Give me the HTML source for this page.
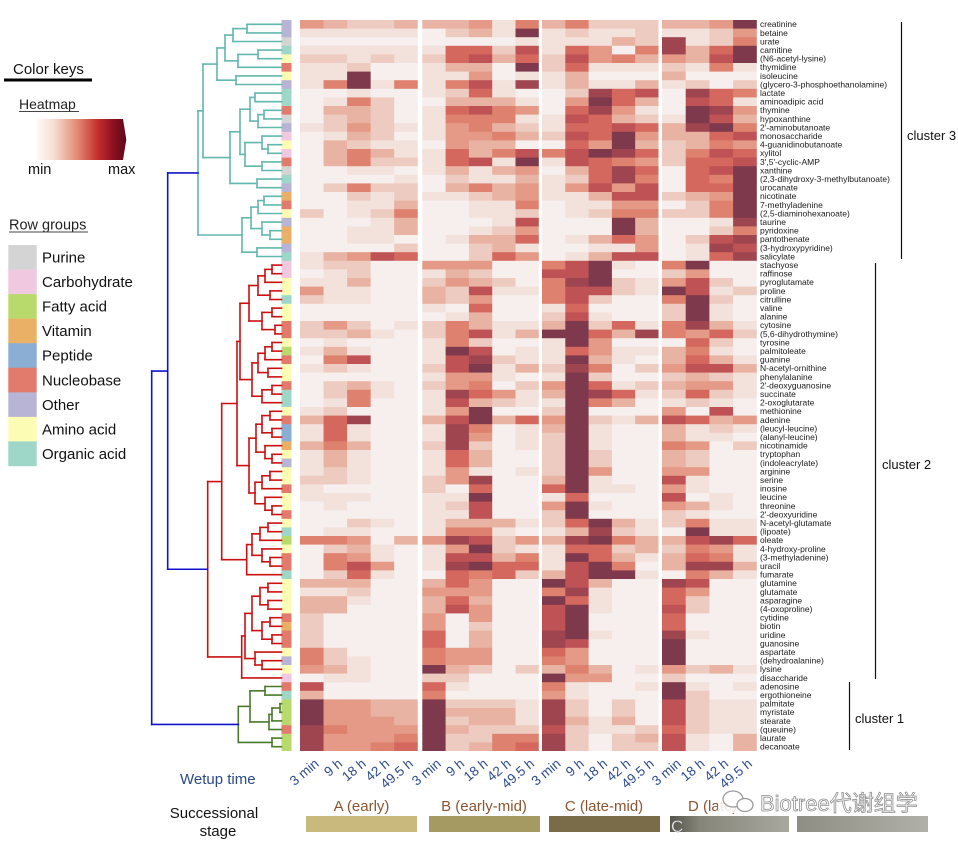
<!DOCTYPE html>
<html>
<head>
<meta charset="utf-8">
<style>
  html,body{margin:0;padding:0;background:#fff;}
  svg{display:block;}
  text{font-family:"Liberation Sans","Noto Sans CJK SC",sans-serif;}
</style>
</head>
<body>
<svg id="s" width="958" height="845" viewBox="0 0 958 845" xmlns="http://www.w3.org/2000/svg">
  <defs>
    <linearGradient id="hg" x1="0" x2="1" y1="0" y2="0">
      <stop offset="0" stop-color="#fefaf8"/>
      <stop offset="0.2" stop-color="#f6dcd2"/>
      <stop offset="0.45" stop-color="#e48a74"/>
      <stop offset="0.68" stop-color="#c4302c"/>
      <stop offset="0.85" stop-color="#8e1020"/>
      <stop offset="1" stop-color="#5a0a1c"/>
    </linearGradient>
    <linearGradient id="dg" x1="0" x2="1" y1="0" y2="0">
      <stop offset="0" stop-color="#55554a"/>
      <stop offset="0.25" stop-color="#85857a"/>
      <stop offset="1" stop-color="#a8a89e"/>
    </linearGradient>
    <linearGradient id="eg" x1="0" x2="1" y1="0" y2="0">
      <stop offset="0" stop-color="#8e8e84"/>
      <stop offset="1" stop-color="#b0b0a8"/>
    </linearGradient>
  </defs>

  <!-- Legend -->
  <text x="13" y="74" font-size="15" fill="#111">Color keys</text>
  <rect x="4" y="78.5" width="88" height="3" fill="#000"/>
  <text x="19" y="109" font-size="14" fill="#222">Heatmap</text>
  <line x1="19" y1="111.5" x2="79" y2="111.5" stroke="#444" stroke-width="1"/>
  <path d="M36.7 119 L123 119 L126.3 139.5 L123 160 L36.7 160 Z" fill="url(#hg)"/>
  <text x="28" y="174" font-size="14.5" fill="#111">min</text>
  <text x="108" y="174" font-size="14.5" fill="#111">max</text>
  <text x="9" y="229.5" font-size="14.5" fill="#222">Row groups</text>
  <line x1="9" y1="232" x2="88" y2="232" stroke="#444" stroke-width="1"/>
  <g id="legend"></g>

  <!-- heatmap & dendrogram -->
  <g id="heat"></g>
  <g id="dend" fill="none" stroke-width="1.6"></g>
  <g id="labels" font-size="8.5" fill="#1a1a1a"></g>

  <!-- cluster brackets -->
  <line x1="901.5" y1="22" x2="901.5" y2="259" stroke="#111" stroke-width="1.2"/>
  <text x="907" y="140" font-size="13" fill="#111">cluster 3</text>
  <line x1="875.5" y1="263" x2="875.5" y2="679" stroke="#111" stroke-width="1.2"/>
  <text x="882" y="469" font-size="13" fill="#111">cluster 2</text>
  <line x1="849.5" y1="682" x2="849.5" y2="750" stroke="#111" stroke-width="1.2"/>
  <text x="855" y="723" font-size="13" fill="#111">cluster 1</text>

  <!-- bottom axis -->
  <text x="180" y="784" font-size="15" fill="#2b4a8b">Wetup time</text>
  <g id="cols" font-size="13.5" fill="#2b4a8b"></g>

  <text x="214" y="818" font-size="15" fill="#111" text-anchor="middle">Successional</text>
  <text x="218" y="836" font-size="15" fill="#111" text-anchor="middle">stage</text>

  <text x="361.5" y="811" font-size="15" fill="#8a5530" text-anchor="middle">A (early)</text>
  <text x="484" y="811" font-size="15" fill="#8a5530" text-anchor="middle">B (early-mid)</text>
  <text x="604" y="811" font-size="15" fill="#8a5530" text-anchor="middle">C (late-mid)</text>
  <text x="688" y="811" font-size="15" fill="#8a5530">D (late)</text>

  <rect x="306" y="816" width="111" height="16" fill="#c9b97c"/>
  <rect x="429" y="816" width="111" height="16" fill="#a59a62"/>
  <rect x="549" y="816" width="111" height="16" fill="#7a6c48"/>
  <rect x="670" y="816" width="119" height="16" fill="url(#dg)"/>
  <text x="671" y="832" font-size="17" fill="#f4f4f4" stroke="#777" stroke-width="0.5">C</text>
  <rect x="797" y="816" width="131" height="16" fill="url(#eg)"/>

  <!-- watermark -->
  <rect x="718" y="789" width="40" height="24" fill="#fff" opacity="0.85"/>
  <ellipse cx="733" cy="799" rx="10" ry="8" fill="#fff" stroke="#9a9a9a" stroke-width="1.3"/>
  <ellipse cx="745" cy="805" rx="8" ry="6.5" fill="#fff" stroke="#9a9a9a" stroke-width="1.3"/>
  <text x="760" y="811" font-size="22" fill="#fdfdfd" stroke="#909090" stroke-width="0.8">Biotree代谢组学</text>
</svg>

<script>
(function(){
  var NS = "http://www.w3.org/2000/svg";
  function el(tag, attrs, parent, txt){
    var e = document.createElementNS(NS, tag);
    for (var k in attrs) e.setAttribute(k, attrs[k]);
    if (txt !== undefined) e.textContent = txt;
    parent.appendChild(e);
    return e;
  }

  // legend boxes
  var lg = document.getElementById('legend');
  var groups = [["Purine","#d4d4d4"],["Carbohydrate","#f0c8df"],["Fatty acid","#b8da6c"],
    ["Vitamin","#eab066"],["Peptide","#8aaed4"],["Nucleobase","#e27b6c"],["Other","#b8b4d6"],
    ["Amino acid","#fcfcb4"],["Organic acid","#9ed6c8"]];
  for (var i=0;i<groups.length;i++){
    var yy = 245 + i*24.55;
    el('rect',{x:8.3,y:yy,width:28.4,height:24.8,fill:groups[i][1]},lg);
    el('text',{x:42,y:yy+17.5,'font-size':15,fill:'#111'},lg,groups[i][0]);
  }

  var gcol = {P:"#d4d4d4",C:"#f0c8df",F:"#b8da6c",V:"#eab066",E:"#8aaed4",N:"#e27b6c",O:"#b8b4d6",A:"#fcfcb4",R:"#9ed6c8"};
  var grp = "OOPRANAORRNPOCACNPROVNAOVVOR"+"CCAARAANNAFNAANRRANEEVAOAANAANARFANNRAAAANVNNAOAC"+"NRFFFNFF";

  var names = ["creatinine","betaine","urate","carnitine","(N6-acetyl-lysine)","thymidine","isoleucine",
  "(glycero-3-phosphoethanolamine)","lactate","aminoadipic acid","thymine","hypoxanthine","2'-aminobutanoate",
  "monosaccharide","4-guanidinobutanoate","xylitol","3',5'-cyclic-AMP","xanthine","(2,3-dihydroxy-3-methylbutanoate)",
  "urocanate","nicotinate","7-methyladenine","(2,5-diaminohexanoate)","taurine","pyridoxine","pantothenate",
  "(3-hydroxypyridine)","salicylate","stachyose","raffinose","pyroglutamate","proline","citrulline","valine",
  "alanine","cytosine","(5,6-dihydrothymine)","tyrosine","palmitoleate","guanine","N-acetyl-ornithine",
  "phenylalanine","2'-deoxyguanosine","succinate","2-oxoglutarate","methionine","adenine","(leucyl-leucine)",
  "(alanyl-leucine)","nicotinamide","tryptophan","(indoleacrylate)","arginine","serine","inosine","leucine",
  "threonine","2'-deoxyuridine","N-acetyl-glutamate","(lipoate)","oleate","4-hydroxy-proline","(3-methyladenine)",
  "uracil","fumarate","glutamine","glutamate","asparagine","(4-oxoproline)","cytidine","biotin","uridine",
  "guanosine","aspartate","(dehydroalanine)","lysine","disaccharide","adenosine","ergothioneine","palmitate",
  "myristate","stearate","(queuine)","laurate","decanoate"];

  var data = [
  "4322333415352223349","1111102319121121124","0000000001111328125","1111116627164058369",
  "2212126736274534379","1120013309261112151","1190011401130003000","1591515718131131202",
  "0010012610028670865","0152003331049630761","0332016754068410984","0232015551176321973",
  "1242114532166763895","0132014453276943367","0321104330064932354","0353116357579862576",
  "0352216719176542667","0011013134036860679","0000102113126850659","0252203534147470669",
  "0021211234113772349","0011300115011440259","2012500112012552259","0001300017000930018",
  "0011300124000930025","0011001336013640278","0000200231001140187","1347600264013770168",
  "1220044400579105900","0120013200779002400","1130024320589214720","4110032711577219712",
  "2110032400572005920","0000010600160002910","0000001300271002910","2420125311392615831",
  "2231025713996385462","0100015200194000620","1310019701164113510","0570017821193103631",
  "1210027913285024773","0000014410192002321","0231024502496123441","0251018641398612621",
  "0150017321195301210","1200014900290004070","3680037936492137634","1610018501391003121",
  "1610018401291003110","3530028201291005402","1310016300292003200","1310016300292003200",
  "1210014101294004400","2210024800391007100","1000020600691104100","1110011900160007010",
  "0100012700491004310","0000011700290002100","0021013331269312511","0110015510138210911",
  "5540348724389533786","0231014921166232541","0541017735196313651","0574018966179503883",
  "0261006562379910531","3330036400973008700","1120044400581006400","3310036300961006200",
  "3300037400791007200","2000040400790006000","2000040200790006000","2000060300891008100",
  "2000060300870009000","5200054400640009000","5210054400540009000","4310093202353014231",
  "0110022000944002000","7000061000510019101","3000050000410009200","9443392221820207211",
  "9443393331820207211","9444392331831307211","8544493222721126211","8444592255820237103",
  "8445692356820227103"];

  var lev = ['#f6efee','#f3e1dc','#eecbc0','#e9b3a3','#e49a86','#de826f','#d4685e','#bf5254','#9e4550','#7e3a4c'];

  var Y0 = 20, H = 8.6, NR = 85;
  var blocks = [[300,23.55,5],[422.3,23.3,5],[542,23.3,5],[662,23.7,4]];
  var cols = [];
  blocks.forEach(function(b){ for (var j=0;j<b[2];j++) cols.push([b[0]+j*b[1], b[1], j==b[2]-1]); });

  var heat = document.getElementById('heat');
  for (var r=0;r<NR;r++){
    var y = Y0 + r*H;
    var hh = (r==NR-1)?H:H+0.5;
    var row = data[r];
    for (var c=0;c<cols.length;c++){
      var v = parseInt(row.charAt(c),10);
      el('rect',{x:cols[c][0].toFixed(2),y:y.toFixed(2),width:(cols[c][2]?cols[c][1]:cols[c][1]+0.5).toFixed(2),height:hh.toFixed(2),fill:lev[v]},heat);
    }
    el('rect',{x:281.5,y:y.toFixed(2),width:10,height:hh.toFixed(2),fill:gcol[grp.charAt(r)]},heat);
  }

  // labels
  var lab = document.getElementById('labels');
  for (var r=0;r<NR;r++){
    el('text',{x:760,y:(Y0+(r+0.5)*H+2.9).toFixed(2)},lab,names[r]);
  }

  // column labels
  var cl = document.getElementById('cols');
  var ctext = ["3 min","9 h","18 h","42 h","49.5 h","3 min","9 h","18 h","42 h","49.5 h",
               "3 min","9 h","18 h","42 h","49.5 h","3 min","18 h","42 h","49.5 h"];
  for (var c=0;c<cols.length;c++){
    var cx = cols[c][0] + cols[c][1]/2 + 8;
    var cy = 765;
    el('text',{x:cx.toFixed(1),y:cy,'text-anchor':'end',transform:'rotate(-40 '+cx.toFixed(1)+' '+cy+')'},cl,ctext[c]);
  }

  // dendrogram
  var dg = document.getElementById('dend');
  function line(x1,y1,x2,y2,col){
    el('line',{x1:x1.toFixed(2),y1:y1.toFixed(2),x2:x2.toFixed(2),y2:y2.toFixed(2),stroke:col,'stroke-linecap':'square'},dg);
  }
  function draw(node,col){
    if (typeof node === 'number') return {x:281.5, y:Y0+(node+0.5)*H};
    var a = draw(node[1],col), b = draw(node[2],col), x = node[0];
    line(x,a.y,x,b.y,col);
    line(x,a.y,a.x,a.y,col);
    line(x,b.y,b.x,b.y,col);
    return {x:x, y:(a.y+b.y)/2};
  }
  var T3 = [198,
    [203,
      [217,
        [225,[233,[247,0,1],2],[238,[258,3,4],5]],
        [236,6,7]],
      [230,
        [240,
          [250,[255,8,9],[258,[264,10,11],12]],
          [245,[262,13,[268,14,15]],[262,16,17]]],
        [257,18,19]]],
    [242,
      [251,[258,[264,20,21],22],[262,23,[270,24,25]]],
      [257,26,27]]];
  var A1a = [249,[258,[265,[272,28,29],30],[270,31,32]],[262,[272,33,34],[275,35,36]]];
  var A1b = [252,[258,[265,[272,37,38],39],[268,40,41]],[262,[272,42,43],44]];
  var A2 = [249,[256,[262,[270,45,46],[272,47,48]],[265,49,[272,50,51]]],[255,[262,[270,52,53],54],[265,55,[272,56,57]]]];
  var A = [237,[240,A1a,A1b],A2];
  var B = [246.7,[252,[260,[268,58,59],60],[262,61,[270,62,63]]],64];
  var Upper = [221.7,A,B];
  var Lower = [241.7,[245,[252,[260,[268,65,66],[268,67,68]],[262,[270,69,70],[272,71,72]]],[255,73,[262,74,75]]],76];
  var R = [207.7,Upper,Lower];
  var G = [238.3,[250,[265,77,78],[269,[272,[280,79,80],81],82]],[272,83,84]];

  var t = draw(T3,'#62b8ad');
  var rr = draw(R,'#cc1010');
  var gg = draw(G,'#4a7a2c');
  var blue = '#1212cc';
  var b1x = 167.7, b1y = (t.y+rr.y)/2;
  line(b1x,t.y,b1x,rr.y,blue);
  line(b1x,t.y,t.x,t.y,blue);
  line(b1x,rr.y,rr.x,rr.y,blue);
  var b0x = 151.7;
  line(b0x,b1y,b0x,gg.y,blue);
  line(b0x,b1y,b1x,b1y,blue);
  line(b0x,gg.y,gg.x,gg.y,blue);
})();
</script>
</body>
</html>
